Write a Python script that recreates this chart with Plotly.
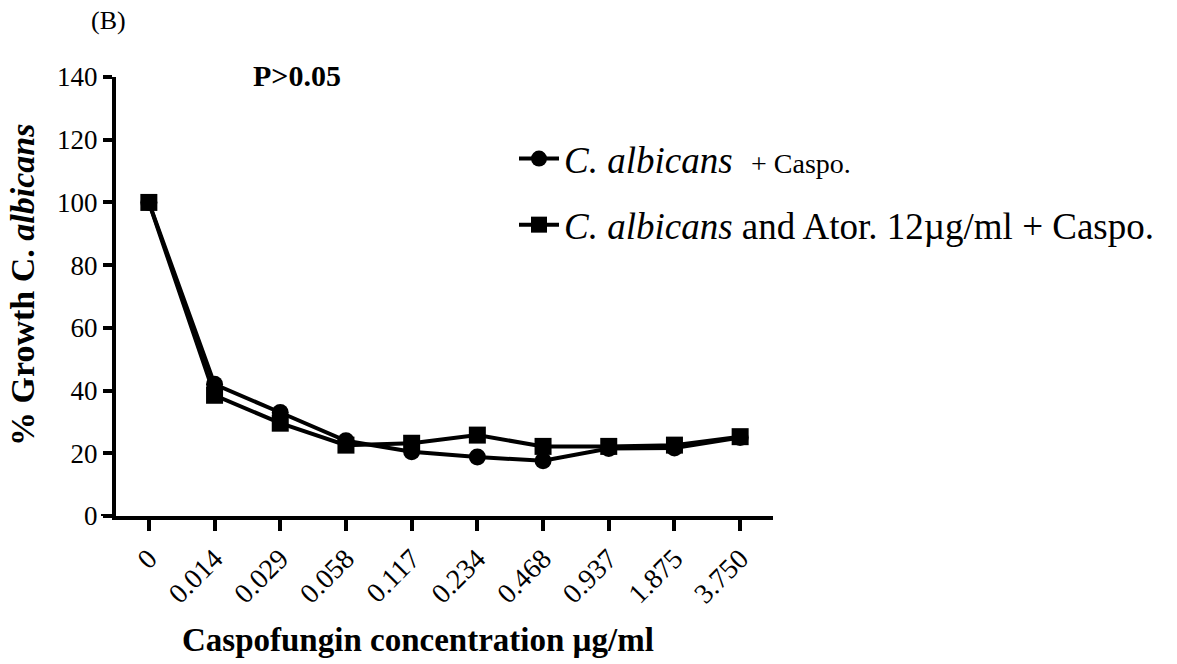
import plotly.graph_objects as go

categories = ["0", "0.014", "0.029", "0.058", "0.117", "0.234", "0.468", "0.937", "1.875", "3.750"]
caspo_only = [100, 42, 33, 24, 20.5, 18.8, 17.6, 21.5, 21.7, 25]
ator_caspo = [100, 38.5, 29.6, 22.6, 23.2, 25.8, 22.2, 22.2, 22.6, 25.3]

x_idx = list(range(len(categories)))
FONT = "Liberation Serif"
W_PLOT = 657
H_PLOT = 439

fig = go.Figure()
fig.add_trace(go.Scatter(
    x=x_idx, y=caspo_only, mode="lines+markers",
    name="<i>C. albicans</i>  <span style='font-size:28px'>+ Caspo.</span>",
    line=dict(color="black", width=4),
    marker=dict(symbol="circle", size=17, color="black"),
    legendgroup="a",
))
fig.add_trace(go.Scatter(
    x=x_idx, y=ator_caspo, mode="lines+markers",
    name="<i>C. albicans</i> and Ator. 12µg/ml + Caspo.",
    line=dict(color="black", width=4),
    marker=dict(symbol="square", size=17, color="black"),
    legendgroup="b",
))

fig.update_layout(
    width=1177, height=664,
    margin=dict(l=116, r=404, t=77, b=148),
    paper_bgcolor="white", plot_bgcolor="white",
    font=dict(family=FONT, color="black", size=26),
    showlegend=True,
    legend=dict(
        x=(514 - 116) / W_PLOT, xanchor="left", y=(516 - 128) / H_PLOT, yanchor="top",
        font=dict(family=FONT, size=37, color="black"),
        tracegroupgap=15, itemwidth=40,
        bgcolor="rgba(0,0,0,0)",
    ),
    xaxis=dict(
        range=[-0.5, 9.5], tickmode="array", tickvals=x_idx, ticktext=categories,
        tickangle=-45, showline=True, linecolor="black", linewidth=4,
        ticks="outside", ticklen=11, tickwidth=4, tickcolor="black",
        showgrid=False, zeroline=False,
        tickfont=dict(family=FONT, size=28),
    ),
    yaxis=dict(
        range=[0, 140], tickvals=[0, 20, 40, 60, 80, 100, 120, 140],
        showline=True, linecolor="black", linewidth=4,
        ticks="outside", ticklen=9, tickwidth=4, tickcolor="black",
        showgrid=False, zeroline=False,
        tickfont=dict(family=FONT, size=27),
    ),
)

# x-axis stub extending left of the y-axis
fig.add_shape(type="line", xref="paper", yref="y", x0=-15 / W_PLOT, x1=0, y0=0, y1=0,
              line=dict(color="black", width=4))

fig.add_annotation(text="(B)", xref="paper", yref="paper", x=(108 - 116) / W_PLOT, y=1 + (77 - 21) / H_PLOT,
                   showarrow=False, font=dict(family=FONT, size=26), xanchor="center", yanchor="middle")
fig.add_annotation(text="<b>P>0.05</b>", xref="paper", yref="paper", x=(297 - 116) / W_PLOT, y=1 + (77 - 75) / H_PLOT,
                   showarrow=False, font=dict(family=FONT, size=30), xanchor="center", yanchor="middle")
fig.add_annotation(text="<b>Caspofungin concentration µg/ml</b>", xref="paper", yref="paper",
                   x=(418 - 116) / W_PLOT, y=-(640 - 516) / H_PLOT,
                   showarrow=False, font=dict(family=FONT, size=33), xanchor="center", yanchor="middle")
fig.add_annotation(text="<b>% Growth C. <i>albicans</i></b>", xref="paper", yref="paper",
                   x=(22 - 116) / W_PLOT, y=(516 - 285) / H_PLOT, textangle=-90,
                   showarrow=False, font=dict(family=FONT, size=34), xanchor="center", yanchor="middle")

fig.write_html("out.html")
